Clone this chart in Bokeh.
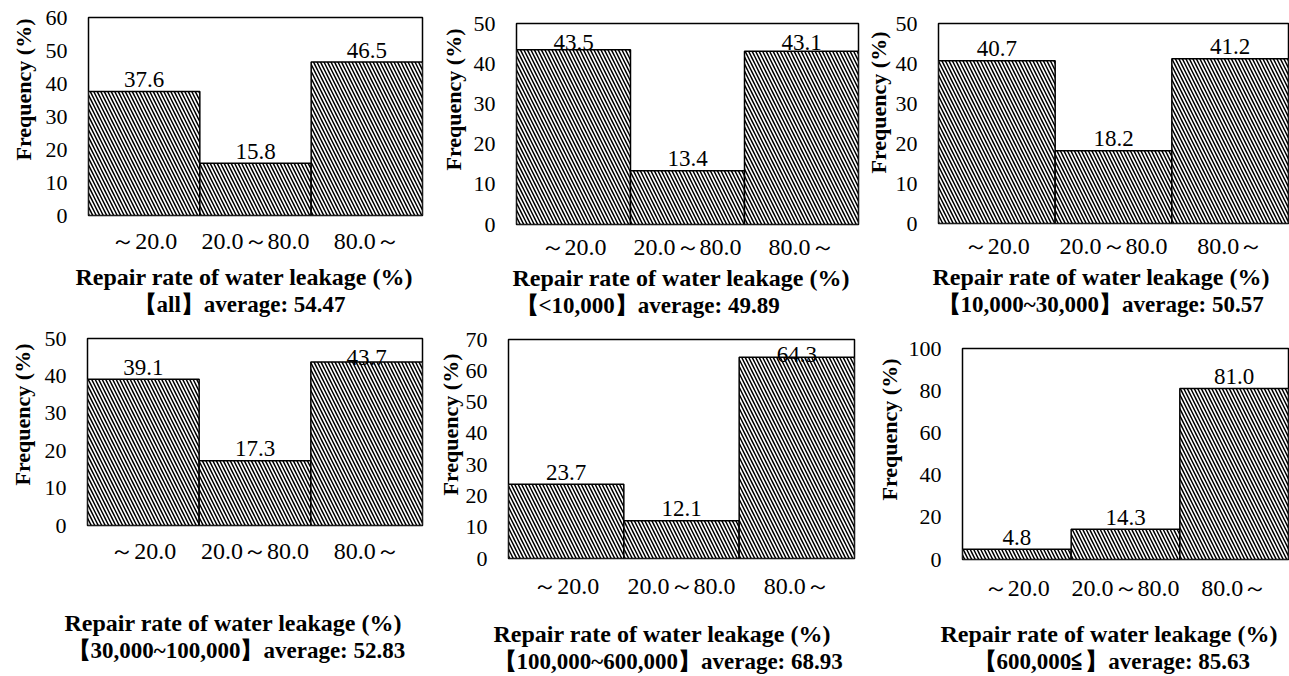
from bokeh.plotting import figure
from bokeh.models import FactorRange, Range1d, Title, ColumnDataSource, FixedTicker
from bokeh.layouts import row, column
from bokeh.embed import file_html
from bokeh.resources import INLINE
from bokeh.core.properties import value

# ---------------- data ----------------
categories = ["～20.0", "20.0～80.0", "80.0～"]
x_label = "Repair rate of water leakage (%)"
y_label = "Frequency (%)"

group_all = [37.6, 15.8, 46.5]
group_lt10k = [43.5, 13.4, 43.1]
group_10k_30k = [40.7, 18.2, 41.2]
group_30k_100k = [39.1, 17.3, 43.7]
group_100k_600k = [23.7, 12.1, 64.3]
group_ge600k = [4.8, 14.3, 81.0]

subtitles = [
    "【all】average: 54.47",
    "【<10,000】average: 49.89",
    "【10,000~30,000】average: 50.57",
    "【30,000~100,000】average: 52.83",
    "【100,000~600,000】average: 68.93",
    "【600,000≦】average: 85.63",
]
y_max = [60, 50, 50, 50, 70, 100]
y_step = [10, 10, 10, 10, 10, 20]

series = [group_all, group_lt10k, group_10k_30k, group_30k_100k, group_100k_600k, group_ge600k]

# ---------------- layout (pixels) ----------------
# width, height, border left, right, top, bottom
boxes = [
    (430, 320, 88, 8, 17, 105),
    (430, 320, 86, 2, 23, 96),
    (429, 320, 78, 1, 23, 97),
    (430, 356, 83, 8, 18, 151),
    (430, 356, 78, 6, 19, 118),
    (429, 356, 102, 1, 28, 117),
]
ylab_offset = [55, 54, 50, 40, 63, 59]      # frame bottom -> start of y label
ylab_standoff = [13, 9, 3, 14, 0, 7]
xlab_offset = [-13, -4, -6, -23, -15, -22]  # left edge of x label vs frame left
sub_offset = [45, -1, -1, -20, -15, 11]     # left edge of subtitle vs frame left
tick_standoff = [6, 3, 3, 6, 8, 9]
gap = [2, 0, 0, 38, 14, 12]                 # extra space between tick labels and x label

FONT = "Liberation Serif"


def make_panel(i):
    vals = series[i]
    w, h, bl, br, bt, bb = boxes[i]
    fh = h - bt - bb
    ymax = y_max[i]
    p = figure(
        x_range=FactorRange(*categories, range_padding=0),
        y_range=Range1d(0, ymax),
        width=w, height=h,
        min_border_left=bl, min_border_right=br,
        min_border_top=bt, min_border_bottom=bb,
        output_backend="svg", toolbar_location=None,
    )
    p.frame_align = False
    p.background_fill_color = "white"
    p.border_fill_color = "white"
    p.outline_line_color = "black"
    p.outline_line_width = 1.5
    p.xgrid.visible = False
    p.ygrid.visible = False

    offs = []
    for v in vals:
        room = (ymax - v) / ymax * fh
        offs.append(-max(3, min(12, room - 19)))

    src = ColumnDataSource(dict(x=categories, top=vals,
                                lab=[f"{v:.1f}" for v in vals], off=offs))
    p.vbar(x="x", top="top", width=1.0, source=src,
           fill_color="white", line_color="black", line_width=1.5,
           hatch_pattern="\\", hatch_scale=7, hatch_weight=1.5, hatch_color="black")
    p.text(x="x", y="top", text="lab", y_offset="off", source=src,
           text_align="center", text_baseline="alphabetic",
           text_font=value(FONT), text_font_size="23px", text_color="black")

    ya = p.yaxis[0]
    ya.ticker = FixedTicker(ticks=list(range(0, ymax + 1, y_step[i])))
    ya.axis_line_color = None
    ya.major_tick_line_color = None
    ya.minor_tick_line_color = None
    ya.major_label_standoff = 15
    ya.major_label_text_font = FONT
    ya.major_label_text_font_size = "22px"
    ya.major_label_text_color = "black"

    xa = p.xaxis[0]
    xa.axis_line_color = None
    xa.major_tick_line_color = None
    xa.minor_tick_line_color = None
    xa.major_label_standoff = tick_standoff[i]
    xa.major_label_text_font = FONT
    xa.major_label_text_font_size = "24px"
    xa.major_label_text_color = "black"

    p.add_layout(Title(text=y_label, align="left", offset=ylab_offset[i],
                       standoff=ylab_standoff[i],
                       text_font=FONT, text_font_size="22px",
                       text_font_style="bold", text_color="black"), "left")
    if gap[i] > 0:
        p.add_layout(Title(text=" ", text_font_size="1px", standoff=gap[i]), "below")
    p.add_layout(Title(text=x_label, align="left", offset=xlab_offset[i],
                       standoff=0,
                       text_font=FONT, text_font_size="24px",
                       text_font_style="bold", text_color="black"), "below")
    p.add_layout(Title(text=subtitles[i], align="left", offset=sub_offset[i],
                       standoff=0,
                       text_font=FONT, text_font_size="23px",
                       text_font_style="bold", text_color="black"), "below")
    return p


panels = [make_panel(i) for i in range(6)]
layout = column(row(*panels[:3]), row(*panels[3:]))
open("out.html", "w").write(file_html(layout, INLINE))
